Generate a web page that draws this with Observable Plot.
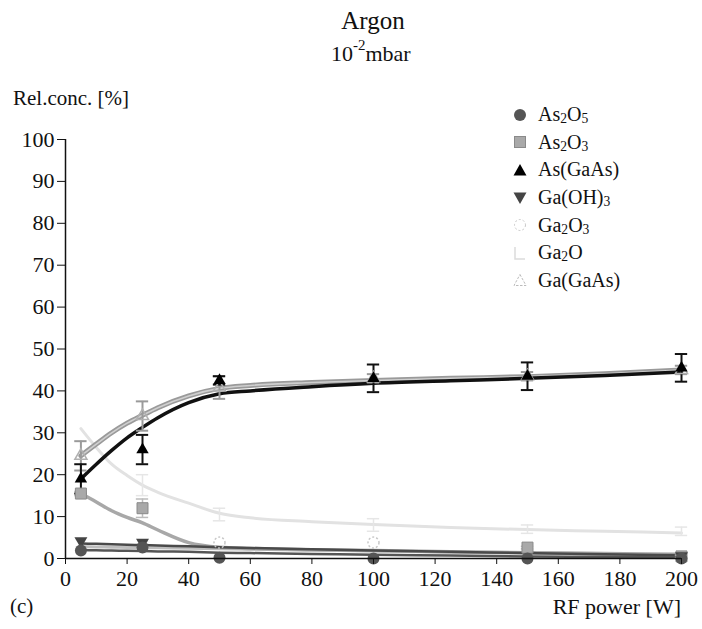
<!DOCTYPE html>
<html>
<head>
<meta charset="utf-8">
<script src="https://cdn.jsdelivr.net/npm/d3@7"></script>
<script src="https://cdn.jsdelivr.net/npm/@observablehq/plot@0.6"></script>
<style>
  html, body { margin: 0; padding: 0; background: #fff; }
  #wrap { position: relative; width: 702px; height: 629px; font-family: "Liberation Serif", "DejaVu Serif", "Times New Roman", serif; color: #111; }
  #chart { position: absolute; left: 0; top: 0; }
  .txt { position: absolute; white-space: nowrap; line-height: 1; }
  .legend { position: absolute; left: 510px; top: 101px; }
  .legend .row { display: flex; align-items: center; height: 27.6px; font-size: 20px; }
  .legend svg { width: 20px; height: 18px; margin-right: 8px; flex: none; }
  sub { font-size: 68%; vertical-align: -0.12em; line-height: 0; }
  sup { font-size: 68%; vertical-align: 0.75em; line-height: 0; }
</style>
</head>
<body>
<div id="wrap">
  <div id="chart"></div>
  <div class="txt" style="left:0;width:746px;text-align:center;top:8px;font-size:25px;">Argon</div>
  <div class="txt" style="left:331px;top:43px;font-size:22px;">10<sup>-2</sup>mbar</div>
  <div class="txt" style="left:13px;top:88px;font-size:21px;">Rel.conc. [%]</div>
  <div class="txt" style="left:10px;top:596px;font-size:21px;">(c)</div>
  <div class="txt" style="right:21px;top:596px;font-size:22px;">RF power [W]</div>
  <div class="legend" id="legend"></div>
</div>
<script>
// Measured RF power settings [W]
const power = [5, 25, 50, 100, 150, 200];

// Measured relative concentrations [%] (null = not visible / not measured)
const as2O5  = [1.9, 2.6, 0.2, 0, 0, 0];
const as2O3  = [15.5, 12, null, null, 2.6, 0.5];
const as2O3Err = [0.5, 2.2, null, null, 0.3, 0.3];
const asGaAs = [19, 26, 42.5, 43, 43.5, 45.5];
const asGaAsErr = [3.5, 3.5, 1, 3.3, 3.3, 3.3];
const gaOH3  = [4.2, 3.8, null, null, null, 0.6];
const ga2O3  = [null, null, 3.8, 3.8, null, null];
const ga2O   = [null, 17.5, 10.5, 8, 7, 6.5];
const ga2OErr = [null, 2.5, 1.5, 1.5, 1, 1];
const gaGaAs = [24.5, 34, 40.8, 43, 43.5, 45];
const gaGaAsErr = [3.5, 3.5, 2.7, 1, 1, 1];

// Fitted trend curves, sampled along RF power [W]
const fitPower  = [5, 10, 15, 20, 25, 30, 40, 50, 60, 80, 100, 125, 150, 175, 200];
const fitAsGaAs = [19, 22.5, 25.8, 28.8, 31.3, 33.6, 37.2, 39.3, 40, 41, 41.8, 42.4, 43, 43.7, 44.5];
const fitGaGaAs = [24.5, 27.3, 30, 32.3, 34.2, 36, 38.8, 40.6, 41.3, 42, 42.5, 43, 43.4, 44.1, 45];
const fitGa2O   = [31, 26.5, 22.5, 19.8, 17.5, 15.8, 13.2, 10.8, 9.7, 8.8, 8.1, 7.4, 6.9, 6.5, 6.1];
const fitAs2O3  = [15.5, 13.5, 11.4, 9.8, 8.5, 6.8, 3.8, 2.7, 2.4, 2.1, 1.9, 1.6, 1.4, 1.2, 1];
const fitGa2O3  = [2.8, 2.75, 2.7, 2.65, 2.6, 2.55, 2.45, 2.3, 2.2, 2, 1.8, 1.5, 1.3, 1.1, 0.9];
const fitGaOH3  = [3.6, 3.5, 3.4, 3.3, 3.2, 3.1, 2.9, 2.7, 2.5, 2.2, 1.9, 1.6, 1.3, 1.0, 0.8];
const fitAs2O5  = [2.0, 1.95, 1.9, 1.85, 1.8, 1.7, 1.6, 1.4, 1.3, 1.1, 0.9, 0.7, 0.5, 0.4, 0.3];

const xTicks = [0, 20, 40, 60, 80, 100, 120, 140, 160, 180, 200];
const yTicks = [0, 10, 20, 30, 40, 50, 60, 70, 80, 90, 100];

// Tables built from the arrays above
const fits = fitPower.map((x, i) => ({
  x, asGaAs: fitAsGaAs[i], gaGaAs: fitGaGaAs[i], ga2O: fitGa2O[i], as2O3: fitAs2O3[i],
  ga2O3: fitGa2O3[i], gaOH3: fitGaOH3[i], as2O5: fitAs2O5[i]
}));
function series(vals, errs) {
  return power.map((x, i) => ({x, v: vals[i], e: errs ? errs[i] : null})).filter(d => d.v != null);
}
const sAs2O5 = series(as2O5), sAs2O3 = series(as2O3, as2O3Err), sAsGaAs = series(asGaAs, asGaAsErr);
const sGaOH3 = series(gaOH3), sGa2O3 = series(ga2O3), sGa2O = series(ga2O, ga2OErr), sGaGaAs = series(gaGaAs, gaGaAsErr);

const CAP = 2; // half cap width in W
function errBars(data, stroke, width) {
  const d = data.filter(p => p.e != null);
  return [
    Plot.ruleX(d, {x: "x", y1: p => p.v - p.e, y2: p => p.v + p.e, stroke, strokeWidth: width}),
    Plot.ruleY(d, {y: p => p.v + p.e, x1: p => p.x - CAP, x2: p => p.x + CAP, stroke, strokeWidth: width}),
    Plot.ruleY(d, {y: p => p.v - p.e, x1: p => p.x - CAP, x2: p => p.x + CAP, stroke, strokeWidth: width})
  ];
}
const line = (key, stroke, strokeWidth, extra = {}) =>
  Plot.line(fits, {x: "x", y: key, curve: "monotone-x", stroke, strokeWidth, ...extra});

const chart = Plot.plot({
  width: 702,
  height: 629,
  marginLeft: 65,
  marginRight: 21,
  marginTop: 139,
  marginBottom: 71,
  style: {fontFamily: "'Liberation Serif', 'DejaVu Serif', 'Times New Roman', serif", fontSize: "22px", background: "transparent", color: "#111"},
  x: {domain: [0, 200]},
  y: {domain: [0, 100]},
  marks: [
    // faint Ga2O trend and error bars
    line("ga2O", "#e2e2e2", 3),
    ...errBars(sGa2O, "#e6e6e6", 1.5),
    // oxide band near zero
    line("ga2O3", "#bdbdbd", 3),
    line("as2O3", "#a8a8a8", 3.5),
    line("gaOH3", "#4a4a4a", 2.5),
    line("as2O5", "#555", 2.5),
    // Ga(GaAs) and As(GaAs) trends
    line("gaGaAs", "#9a9a9a", 5),
    line("gaGaAs", "#cfcfcf", 1.6),
    line("asGaAs", "#111", 3.5),
    ...errBars(sGaGaAs, "#9a9a9a", 2),
    ...errBars(sAs2O3, "#bbbbbb", 1.5),
    ...errBars(sAsGaAs, "#111", 2),
    // markers
    Plot.dot(sGa2O3, {x: "x", y: "v", r: 5.5, stroke: "#c8c8c8", strokeDasharray: "2,2", fill: "none"}),
    Plot.dot(sGaGaAs, {x: "x", y: "v", symbol: "triangle", r: 4.5, stroke: "#b0b0b0", fill: "none"}),
    Plot.dot(sAs2O3, {x: "x", y: "v", symbol: "square", r: 6.2, fill: "#a9a9a9", stroke: "#8a8a8a", strokeWidth: 1}),
    Plot.dot(sGaOH3, {x: "x", y: "v", symbol: "triangle", rotate: 180, r: 4.8, fill: "#444"}),
    Plot.dot(sAs2O5, {x: "x", y: "v", r: 6, fill: "#555"}),
    Plot.dot(sAsGaAs, {x: "x", y: "v", symbol: "triangle", r: 4.6, fill: "#000"}),
    // axes
    Plot.ruleY([0], {stroke: "#111", strokeWidth: 1.5}),
    Plot.ruleX([0], {stroke: "#111", strokeWidth: 1.5}),
    Plot.axisX({ticks: xTicks, tickSize: 6, tickPadding: 6, label: null, fontSize: 22}),
    Plot.axisY({ticks: yTicks, tickSize: 8, tickPadding: 3, label: null, fontSize: 22})
  ]
});
document.getElementById("chart").append(chart);

// Legend
const legendItems = [
  {html: "As<sub>2</sub>O<sub>5</sub>", sym: '<circle cx="10" cy="9" r="6" fill="#555"/>'},
  {html: "As<sub>2</sub>O<sub>3</sub>", sym: '<rect x="4.5" y="3.5" width="11" height="11" fill="#a9a9a9" stroke="#8a8a8a"/>'},
  {html: "As(GaAs)", sym: '<path d="M10,3 L16.5,14.5 L3.5,14.5 Z" fill="#000"/>'},
  {html: "Ga(OH)<sub>3</sub>", sym: '<path d="M10,15 L16.5,3.5 L3.5,3.5 Z" fill="#444"/>'},
  {html: "Ga<sub>2</sub>O<sub>3</sub>", sym: '<circle cx="10" cy="9" r="5.5" fill="none" stroke="#c8c8c8" stroke-dasharray="2,2"/>'},
  {html: "Ga<sub>2</sub>O", sym: '<path d="M5,3 L5,15 L15,15" fill="none" stroke="#dcdcdc" stroke-width="1.5"/>'},
  {html: "Ga(GaAs)", sym: '<path d="M10,3.5 L16,14.5 L4,14.5 Z" fill="none" stroke="#bbb" stroke-dasharray="2.5,1.5"/>'}
];
const legend = document.getElementById("legend");
for (const it of legendItems) {
  const row = document.createElement("div");
  row.className = "row";
  row.innerHTML = `<svg viewBox="0 0 20 18">${it.sym}</svg><span>${it.html}</span>`;
  legend.append(row);
}
</script>
</body>
</html>
